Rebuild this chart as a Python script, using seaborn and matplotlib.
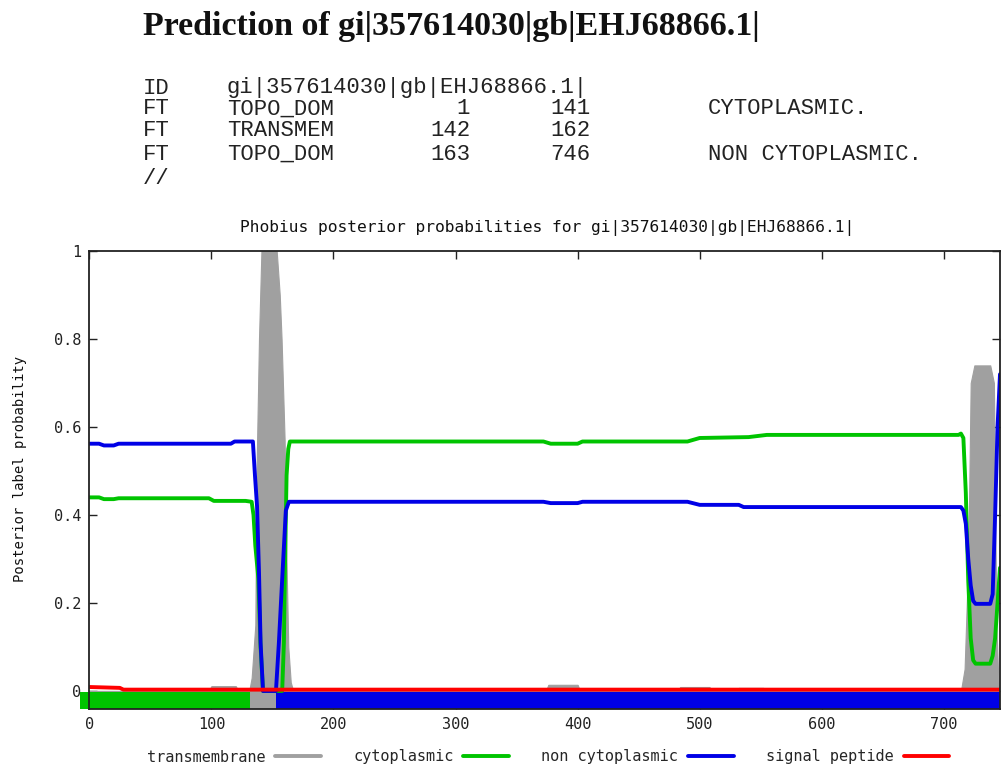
import numpy as np
import pandas as pd
import matplotlib
matplotlib.use("Agg")
import matplotlib.pyplot as plt
from matplotlib.lines import Line2D
import seaborn as sns

# ---------------- text content ----------------
heading = "Prediction of gi|357614030|gb|EHJ68866.1|"
col_tag = ["ID", "FT", "FT", "FT", "//"]
col_feat = ["gi|357614030|gb|EHJ68866.1|", "TOPO_DOM", "TRANSMEM", "TOPO_DOM", ""]
col_from = ["", "1", "142", "163", ""]
col_to = ["", "141", "162", "746", ""]
col_note = ["", "CYTOPLASMIC.", "", "NON CYTOPLASMIC.", ""]
chart_title = "Phobius posterior probabilities for gi|357614030|gb|EHJ68866.1|"
y_label = "Posterior label probability"
x_ticks = [0, 100, 200, 300, 400, 500, 600, 700]
y_ticks = [0, 0.2, 0.4, 0.6, 0.8, 1.0]
y_tick_labels = ["0", "0.2", "0.4", "0.6", "0.8", "1"]
seq_len = 746

# ---------------- series ----------------
pos_tm = [0, 98, 100, 120, 122, 131, 133, 136, 137, 139, 141, 153.5, 156, 157.5,
          160, 161.5, 163, 165, 167, 350, 352, 372, 374, 376, 400, 402, 482, 484,
          508, 510, 530, 532, 552, 554, 714, 717, 720, 722, 725, 738, 741, 743, 745, 746]
tm = [0, 0, 0.011, 0.011, 0, 0, 0.03, 0.15, 0.5, 0.8, 1.0, 1.0, 0.9, 0.8,
      0.57, 0.3, 0.1, 0.02, 0, 0, 0.006, 0.006, 0.0, 0.014, 0.014, 0, 0, 0.009,
      0.009, 0, 0, 0.007, 0.007, 0, 0, 0.05, 0.30, 0.70, 0.74, 0.74, 0.70, 0.15, 0.0, 0.0]

pos_cyto = [0, 8, 12, 20, 24, 98, 102, 128, 133, 134.5, 136, 138.5, 140.3, 142.3,
            158, 159.4, 160.2, 161.6, 163, 164.3, 372, 378, 400, 404, 490, 500, 540,
            555, 712, 714, 716, 718, 720, 722, 724, 726, 738, 740, 742, 744, 746]
cyto = [0.440, 0.440, 0.436, 0.436, 0.438, 0.438, 0.432, 0.432, 0.430, 0.40, 0.33,
        0.255, 0.10, 0.0, 0.0, 0.11, 0.27, 0.49, 0.55, 0.567, 0.567, 0.562, 0.562,
        0.567, 0.567, 0.575, 0.577, 0.582, 0.582, 0.585, 0.575, 0.45, 0.25, 0.12,
        0.07, 0.062, 0.062, 0.08, 0.12, 0.20, 0.28]

pos_noncyto = [0, 8, 12, 20, 24, 116, 119, 134, 135.7, 137.4, 139, 140.3, 142.3,
               152.9, 155.3, 158.3, 161, 163.5, 372, 378, 400, 404, 490, 500, 532,
               536, 714, 716, 718, 720, 722, 724, 726, 738, 740, 742, 744, 746]
noncyto = [0.562, 0.562, 0.558, 0.558, 0.562, 0.562, 0.567, 0.567, 0.49, 0.42, 0.27,
           0.11, 0.0, 0.0, 0.11, 0.27, 0.41, 0.43, 0.43, 0.427, 0.427, 0.43, 0.43,
           0.423, 0.423, 0.418, 0.418, 0.41, 0.38, 0.30, 0.24, 0.205, 0.198, 0.198,
           0.22, 0.40, 0.60, 0.72]

pos_signal = [0, 25, 28, 746]
signal = [0.009, 0.007, 0.003, 0.003]

# predicted topology strip
strip_start = [-8, 132, 153]
strip_end = [132, 153, seq_len]
strip_kind = ["cytoplasmic", "transmembrane", "non cytoplasmic"]

colors = {"transmembrane": "#a0a0a0", "cytoplasmic": "#00c400",
          "non cytoplasmic": "#0000e6", "signal peptide": "#ff0000"}

# ---------------- figure ----------------
sns.set_style("ticks")
plt.rcParams["font.family"] = ["DejaVu Sans Mono", "DejaVu Sans"]

fig = plt.figure(figsize=(10.02, 7.67), dpi=100)
ax = fig.add_axes([89.3 / 1002, 1 - 709 / 767, (1000 - 89.3) / 1002, (709 - 251) / 767])

ax.fill_between(pos_tm, 0, tm, color=colors["transmembrane"], lw=0.8,
                edgecolor=colors["transmembrane"], zorder=1)

df_c = pd.DataFrame({"pos": pos_cyto, "p": cyto})
df_n = pd.DataFrame({"pos": pos_noncyto, "p": noncyto})
df_s = pd.DataFrame({"pos": pos_signal, "p": signal})
sns.lineplot(data=df_c, x="pos", y="p", color=colors["cytoplasmic"], lw=2.8,
             ax=ax, zorder=3, estimator=None, sort=False)
sns.lineplot(data=df_n, x="pos", y="p", color=colors["non cytoplasmic"], lw=2.8,
             ax=ax, zorder=4, estimator=None, sort=False)

for s, e, k in zip(strip_start, strip_end, strip_kind):
    ax.fill_between([s, e], -0.041, -0.002, color=colors[k], lw=0, zorder=2,
                    clip_on=False)

sns.lineplot(data=df_s, x="pos", y="p", color=colors["signal peptide"], lw=2.8,
             ax=ax, zorder=5, estimator=None, sort=False)

ax.set_xlim(0, seq_len)
ax.set_ylim(-0.041, 1.0)
ax.set_xticks(x_ticks)
ax.set_xticklabels([str(t) for t in x_ticks])
ax.set_yticks(y_ticks)
ax.set_yticklabels(y_tick_labels)
ax.set_xlabel("")
ax.set_ylabel("")
ax.tick_params(direction="in", top=True, right=True, length=6, width=1,
               labelsize=11, pad=6, colors="#222222")
for sp in ax.spines.values():
    sp.set_linewidth(1.3)
    sp.set_color("#222222")
    sp.set_zorder(6)

fig.text(547 / 1002, 1 - 228 / 767, chart_title, ha="center", va="center",
         fontsize=11.7, color="#111111")
fig.text(20 / 1002, 1 - 469 / 767, y_label, rotation=90, ha="center", va="center",
         fontsize=10, color="#111111")

# legend
handles = [Line2D([], [], color=colors[k], lw=2.8)
           for k in ["transmembrane", "cytoplasmic", "non cytoplasmic", "signal peptide"]]
labels = ["transmembrane", "cytoplasmic", "non cytoplasmic", "signal peptide"]
fig.legend(handles, labels, loc="center", bbox_to_anchor=(548 / 1002, 1 - 757 / 767),
           ncol=4, frameon=False, markerfirst=False, fontsize=11, handlelength=3.0,
           handletextpad=0.65, columnspacing=2.1)

# header text
fig.text(143 / 1002, 1 - 27 / 767, heading, ha="left", va="center",
         fontsize=24.5, fontweight="bold", family=["Liberation Serif", "DejaVu Serif"],
         color="#111111")
row_y = [88, 109, 131, 154, 178]
mono = ["Liberation Mono", "DejaVu Sans Mono"]
for i, y in enumerate(row_y):
    yf = 1 - y / 767
    kw = dict(fontsize=16, family=mono, va="center", color="#222222")
    fig.text(143 / 1002, yf, col_tag[i], ha="left", **kw)
    fig.text(227 / 1002, yf, col_feat[i], ha="left", **kw)
    fig.text(470 / 1002, yf, col_from[i], ha="right", **kw)
    fig.text(590 / 1002, yf, col_to[i], ha="right", **kw)
    fig.text(708 / 1002, yf, col_note[i], ha="left", **kw)

fig.savefig("out.png", dpi=100)
